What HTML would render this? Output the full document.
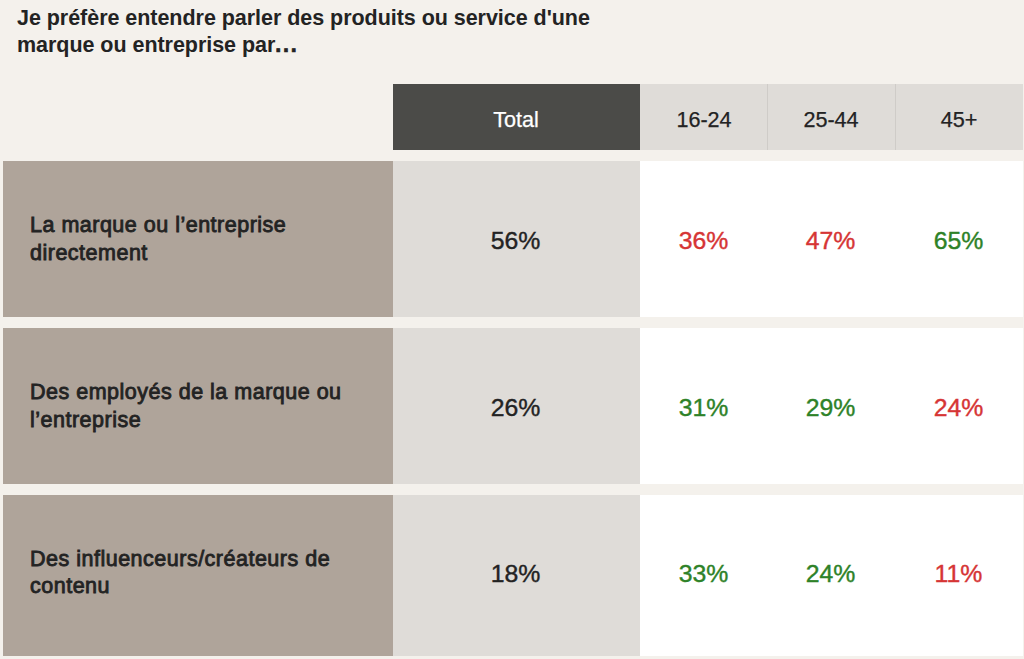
<!DOCTYPE html>
<html><head><meta charset="utf-8">
<style>
html,body{margin:0;padding:0;}
body{width:1024px;height:659px;overflow:hidden;background:#f4f1ec;position:relative;font-family:"Liberation Sans",sans-serif;color:#232323;}
.abs{position:absolute;}
.title{left:17px;top:5px;font-weight:bold;font-size:21.5px;letter-spacing:-0.04px;line-height:27.3px;color:#232323;white-space:nowrap;}
.hdr{top:84px;height:66px;padding-top:6px;padding-right:1px;box-sizing:border-box;-webkit-text-stroke:0.25px currentColor;display:flex;align-items:center;justify-content:center;font-size:21.6px;}
.cell{display:flex;align-items:center;justify-content:center;font-size:24.8px;padding-top:3.5px;padding-right:2px;box-sizing:border-box;-webkit-text-stroke:0.4px currentColor;}
.lab{left:3px;width:390px;background:#afa49a;}
.lab span{position:absolute;left:27px;font-size:21.5px;-webkit-text-stroke:0.85px #232323;letter-spacing:0.5px;line-height:27.5px;white-space:nowrap;}
.tot{left:393px;width:247px;background:#dfdcd8;}
.wh{left:640px;width:383px;background:#ffffff;}
.red{color:#d63535;}
.grn{color:#2e8228;}
</style></head><body>
<div class="abs title">Je préfère entendre parler des produits ou service d'une<br>marque ou entreprise par<span style="letter-spacing:1.7px;-webkit-text-stroke:0.7px #232323">...</span></div>

<div class="abs hdr" style="left:393px;width:247px;background:#4b4b48;color:#fff;">Total</div>
<div class="abs hdr" style="left:640px;width:383px;background:#dfdcd8;"></div>
<div class="abs hdr" style="left:641px;width:127px;">16-24</div>
<div class="abs hdr" style="left:768px;width:127px;">25-44</div>
<div class="abs hdr" style="left:896px;width:127px;">45+</div>
<div class="abs" style="left:767px;top:84px;width:1px;height:66px;background:#cfccc8;"></div>
<div class="abs" style="left:895px;top:84px;width:1px;height:66px;background:#cfccc8;"></div>

<!-- row 1 -->
<div class="abs lab" style="top:161px;height:156px;"><span style="top:51.3px;">La marque ou l’entreprise<br>directement</span></div>
<div class="abs tot" style="top:161px;height:156px;"></div>
<div class="abs wh" style="top:161px;height:156px;"></div>
<div class="abs cell" style="left:393px;width:247px;top:161px;height:156px;">56%</div>
<div class="abs cell red" style="left:641px;width:127px;top:161px;height:156px;">36%</div>
<div class="abs cell red" style="left:768px;width:127px;top:161px;height:156px;">47%</div>
<div class="abs cell grn" style="left:896px;width:127px;top:161px;height:156px;">65%</div>

<!-- row 2 -->
<div class="abs lab" style="top:328px;height:156px;"><span style="top:51.3px;">Des employés de la marque ou<br>l’entreprise</span></div>
<div class="abs tot" style="top:328px;height:156px;"></div>
<div class="abs wh" style="top:328px;height:156px;"></div>
<div class="abs cell" style="left:393px;width:247px;top:328px;height:156px;">26%</div>
<div class="abs cell grn" style="left:641px;width:127px;top:328px;height:156px;">31%</div>
<div class="abs cell grn" style="left:768px;width:127px;top:328px;height:156px;">29%</div>
<div class="abs cell red" style="left:896px;width:127px;top:328px;height:156px;">24%</div>

<!-- row 3 -->
<div class="abs lab" style="top:495px;height:161px;"><span style="top:50.5px;">Des influenceurs/créateurs de<br>contenu</span></div>
<div class="abs tot" style="top:495px;height:161px;"></div>
<div class="abs wh" style="top:495px;height:161px;"></div>
<div class="abs cell" style="left:393px;width:247px;top:494px;height:156px;">18%</div>
<div class="abs cell grn" style="left:641px;width:127px;top:494px;height:156px;">33%</div>
<div class="abs cell grn" style="left:768px;width:127px;top:494px;height:156px;">24%</div>
<div class="abs cell red" style="left:896px;width:127px;top:494px;height:156px;">11%</div>
</body></html>
